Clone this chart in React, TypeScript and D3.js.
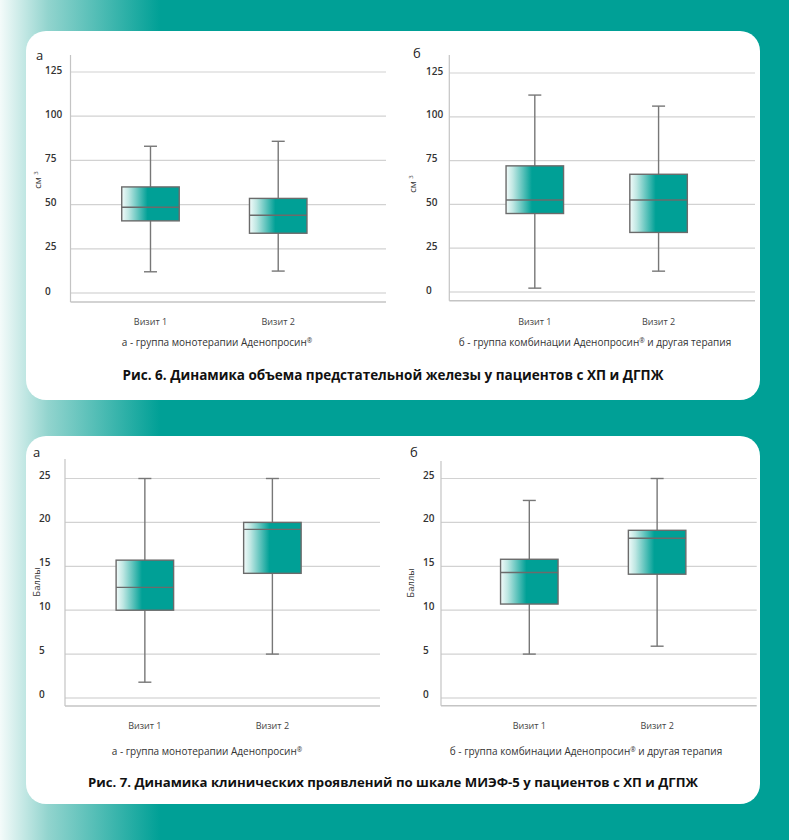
import * as d3 from "d3";

const visits = ["Визит 1", "Визит 2"];
const volumeTicks = [0, 25, 50, 75, 100, 125];
const scoreTicks = [0, 5, 10, 15, 20, 25];

// [min, Q1, median, Q3, max] for each visit
const volumeMono = [
  [12, 40.8, 48.5, 60, 83],
  [12.4, 33.8, 44, 53.5, 85.8],
];
const volumeCombo = [
  [2.2, 44.8, 52.5, 72, 112.4],
  [11.9, 34, 52.5, 67.2, 106.1],
];
const iiefMono = [
  [1.8, 10, 12.6, 15.7, 25],
  [5, 14.2, 19.2, 20, 25],
];
const iiefCombo = [
  [5, 10.7, 14.3, 15.8, 22.5],
  [5.9, 14.1, 18.2, 19.1, 25],
];

const TEAL = "#00a096";
const FONT = "'Open Sans', 'DejaVu Sans', sans-serif";

type PanelProps = {
  letter: string;
  letterX: number;
  letterY: number;
  x0: number;
  x1: number;
  top: number;
  bottom: number;
  yRange: [number, number];
  ticks: number[];
  tickX: number;
  tickDy: number;
  stats: number[][];
  yLabel: React.ReactNode;
  yLabelX: number;
  yLabelY: number;
  align: number;
  xLabelY: number;
  subtitle: React.ReactNode;
  subX: number;
  subY: number;
};

function BoxPanel(p: PanelProps) {
  const y = d3
    .scaleLinear()
    .domain([0, d3.max(p.ticks) as number])
    .range(p.yRange);
  const x = d3
    .scalePoint<string>()
    .domain(visits)
    .range([p.x0, p.x1])
    .padding(0.735)
    .align(p.align);
  const bw = 57.5;
  const cap = 13;

  return (
    <g fontFamily={FONT}>
      <text x={p.letterX} y={p.letterY} fontSize={13} fill="#222">
        {p.letter}
      </text>

      {p.ticks.map((t) => (
        <g key={t}>
          <line
            x1={p.x0}
            x2={p.x1}
            y1={y(t)}
            y2={y(t)}
            stroke={t === 0 ? "#e4e4e4" : "#d2d2d2"}
            strokeWidth={t === 0 ? 2 : 1.2}
          />
          <text
            x={p.tickX}
            y={y(t) + p.tickDy}
            dy="0.35em"
            fontSize={10}
            fontWeight={600}
            fill="#333"
          >
            {t}
          </text>
        </g>
      ))}

      {/* axis lines */}
      <line x1={p.x0} x2={p.x0} y1={p.top} y2={p.bottom} stroke="#c4c4c4" strokeWidth={1.2} />
      <line x1={p.x0} x2={p.x1} y1={p.bottom} y2={p.bottom} stroke="#c4c4c4" strokeWidth={1.5} />

      {p.stats.map((s, i) => {
        const cx = x(visits[i]) as number;
        const [mn, q1, md, q3, mx] = s;
        return (
          <g key={i}>
            <line x1={cx} x2={cx} y1={y(mx)} y2={y(mn)} stroke="#777" strokeWidth={1.4} />
            <line x1={cx - cap / 2} x2={cx + cap / 2} y1={y(mx)} y2={y(mx)} stroke="#777" strokeWidth={1.4} />
            <line x1={cx - cap / 2} x2={cx + cap / 2} y1={y(mn)} y2={y(mn)} stroke="#777" strokeWidth={1.4} />
            <rect
              x={cx - bw / 2}
              y={y(q3)}
              width={bw}
              height={y(q1) - y(q3)}
              fill="url(#boxFill)"
              stroke="#6b6b6b"
              strokeWidth={1.4}
            />
            <line x1={cx - bw / 2} x2={cx + bw / 2} y1={y(md)} y2={y(md)} stroke="#6b6b6b" strokeWidth={1.4} />
            <text x={cx} y={p.xLabelY} textAnchor="middle" fontSize={9} fill="#444">
              {visits[i]}
            </text>
          </g>
        );
      })}

      <text
        transform={`translate(${p.yLabelX},${p.yLabelY}) rotate(-90)`}
        textAnchor="middle"
        dy="0.35em"
        fontSize={9.5}
        fill="#333"
      >
        {p.yLabel}
      </text>

      <text x={p.subX} y={p.subY} textAnchor="middle" fontSize={10} fill="#333">
        {p.subtitle}
      </text>
    </g>
  );
}

const cm3 = (
  <>
    см <tspan fontSize={6} dy="-3">3</tspan>
  </>
);

// small raised ® after the drug name
const reg = (
  <tspan fontSize={6.5} dy="-3">®</tspan>
);

const subMono = <>а - группа монотерапии Аденопросин{reg}</>;
const subCombo = (
  <>
    б - группа комбинации Аденопросин{reg}
    <tspan dy="3"> и другая терапия</tspan>
  </>
);

export default function App() {
  return (
    <svg
      width={789}
      height={840}
      style={{ position: "absolute", left: 0, top: 0 }}
    >
      <defs>
        <linearGradient id="bg" x1="0" x2="160" y1="0" y2="0" gradientUnits="userSpaceOnUse">
          <stop offset="0" stopColor="#f4fbfa" />
          <stop offset="0.3" stopColor="#92d4ce" />
          <stop offset="1" stopColor={TEAL} />
        </linearGradient>
        <linearGradient id="boxFill" x1="0" x2="1" y1="0" y2="0">
          <stop offset="0" stopColor="#f2fbfa" />
          <stop offset="0.12" stopColor="#bfe7e3" />
          <stop offset="0.45" stopColor={TEAL} />
          <stop offset="1" stopColor={TEAL} />
        </linearGradient>
      </defs>

      <rect width={789} height={840} fill="url(#bg)" />
      <rect x={26} y={31} width={734} height={369} rx={20} fill="#fff" />
      <rect x={26} y={436} width={734} height={368} rx={20} fill="#fff" />

      <BoxPanel
        letter="а"
        letterX={36}
        letterY={60}
        x0={70.5}
        x1={386}
        top={55}
        bottom={302}
        yRange={[293, 72]}
        ticks={volumeTicks}
        tickX={45}
        tickDy={-2}
        stats={volumeMono}
        yLabel={cm3}
        yLabelX={38}
        yLabelY={180}
        align={0.426}
        xLabelY={325}
        subtitle={subMono}
        subX={217}
        subY={346}
      />
      <BoxPanel
        letter="б"
        letterX={413}
        letterY={58}
        x0={449.3}
        x1={755}
        top={55}
        bottom={300.7}
        yRange={[292, 73]}
        ticks={volumeTicks}
        tickX={426}
        tickDy={-2}
        stats={volumeCombo}
        yLabel={cm3}
        yLabelX={413}
        yLabelY={184}
        align={0.47}
        xLabelY={325}
        subtitle={subCombo}
        subX={595}
        subY={346}
      />
      <text x={393} y={380} textAnchor="middle" fontFamily={FONT} fontWeight={700} fontSize={13.5} fill="#111">
        Рис. 6. Динамика объема предстательной железы у пациентов с ХП и ДГПЖ
      </text>

      <BoxPanel
        letter="а"
        letterX={33}
        letterY={457}
        x0={65}
        x1={380}
        top={459}
        bottom={706}
        yRange={[698, 478.5]}
        ticks={scoreTicks}
        tickX={39}
        tickDy={-3.5}
        stats={iiefMono}
        yLabel="Баллы"
        yLabelX={37}
        yLabelY={582}
        align={0.426}
        xLabelY={729}
        subtitle={subMono}
        subX={207}
        subY={755}
      />
      <BoxPanel
        letter="б"
        letterX={410}
        letterY={457}
        x0={441}
        x1={756.7}
        top={461}
        bottom={705.7}
        yRange={[698, 478.5]}
        ticks={scoreTicks}
        tickX={423}
        tickDy={-3.5}
        stats={iiefCombo}
        yLabel="Баллы"
        yLabelX={411}
        yLabelY={583}
        align={0.47}
        xLabelY={729}
        subtitle={subCombo}
        subX={586}
        subY={755}
      />
      <text x={393} y={787} textAnchor="middle" fontFamily={FONT} fontWeight={700} fontSize={13.2} fill="#111">
        Рис. 7. Динамика клинических проявлений по шкале МИЭФ-5 у пациентов с ХП и ДГПЖ
      </text>
    </svg>
  );
}
